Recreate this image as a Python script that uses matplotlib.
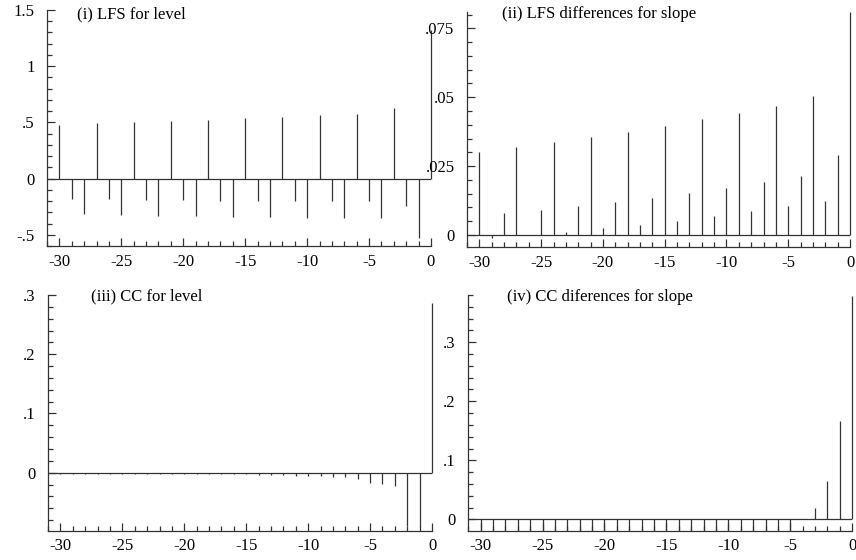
import matplotlib
matplotlib.use('Agg')
import matplotlib.pyplot as plt
from matplotlib.ticker import MultipleLocator, FixedLocator, FixedFormatter

plt.rcParams['font.family'] = ['Liberation Serif', 'DejaVu Serif']
plt.rcParams['font.size'] = 12
plt.rcParams['axes.unicode_minus'] = False  # plain hyphen like "-30"

lags = list(range(-30, 1))

# (i) LFS for level
lfs_level = [0.479, -0.185, -0.315, 0.491, -0.185, -0.320, 0.500, -0.190, -0.330,
             0.509, -0.190, -0.335, 0.524, -0.197, -0.338, 0.535, -0.200, -0.344,
             0.547, -0.200, -0.347, 0.562, -0.203, -0.353, 0.579, -0.203, -0.353,
             0.626, -0.247, -0.529, 1.32]

# (ii) LFS differences for slope
lfs_slope = [0.0300, -0.0010, 0.0079, 0.0319, -0.0002, 0.0091, 0.0336, 0.0011, 0.0105,
             0.0355, 0.0024, 0.0120, 0.0373, 0.0037, 0.0135, 0.0397, 0.0052, 0.0153,
             0.0421, 0.0069, 0.0171, 0.0443, 0.0087, 0.0191, 0.0467, 0.0105, 0.0215,
             0.0504, 0.0122, 0.0290, 0.0808]

# (iii) CC for level
cc_level = [-0.002, -0.002, -0.002, -0.002, -0.002, -0.002, -0.002, -0.002, -0.002,
            -0.002, -0.003, -0.003, -0.003, -0.003, -0.003, -0.003, -0.004, -0.004,
            -0.004, -0.005, -0.006, -0.006, -0.007, -0.008, -0.011, -0.017, -0.019,
            -0.022, -0.090, -0.092, 0.287]

# (iv) CC diferences for slope
cc_slope = [-0.019] * 26 + [0.0, 0.020, 0.065, 0.166, 0.378]

titles = ['(i) LFS for level', '(ii) LFS differences for slope',
          '(iii) CC for level', '(iv) CC diferences for slope']
series = [lfs_level, lfs_slope, cc_level, cc_slope]
ylims = [(-0.6, 1.5), (-0.0044, 0.081), (-0.098, 0.3), (-0.0192, 0.38)]
yticks = [[-0.5, 0, 0.5, 1, 1.5], [0, 0.025, 0.05, 0.075], [0, 0.1, 0.2, 0.3], [0, 0.1, 0.2, 0.3]]
ytick_labels = [['-.5', '0', '.5', '1', '1.5'], ['0', '.025', '.05', '.075'],
                ['0', '.1', '.2', '.3'], ['0', '.1', '.2', '.3']]
yminor = [0.1, 0.005, 0.02, 0.02]
xticks = [-30, -25, -20, -15, -10, -5, 0]
xtick_labels = ['-30', '-25', '-20', '-15', '-10', '-5', '0']

fig = plt.figure(figsize=(8.56, 5.6), dpi=100)
# panel boxes in figure fractions
boxes = [[0.0549, 0.5607, 0.4486, 0.4214],
         [0.5456, 0.5589, 0.4474, 0.4200],
         [0.0561, 0.0523, 0.4486, 0.4209],
         [0.5470, 0.0523, 0.4486, 0.4209]]
title_pos = [(0.078, 0.983), (0.090, 0.990), (0.112, 0.995), (0.100, 0.990)]

lc = '#333333'
for i in range(4):
    ax = fig.add_axes(boxes[i])
    ax.vlines(lags, 0, series[i], colors=lc, linewidth=0.9, clip_on=False)
    ax.axhline(0, color=lc, linewidth=0.9)
    ax.set_xlim(-31, 0)
    ax.set_ylim(*ylims[i])

    for s in ['top', 'right']:
        ax.spines[s].set_visible(False)
    for s in ['left', 'bottom']:
        ax.spines[s].set_color(lc)
        ax.spines[s].set_linewidth(0.9)

    ax.xaxis.set_major_locator(FixedLocator(xticks))
    ax.xaxis.set_major_formatter(FixedFormatter(xtick_labels))
    ax.xaxis.set_minor_locator(MultipleLocator(1))
    ax.yaxis.set_major_locator(FixedLocator(yticks[i]))
    ax.yaxis.set_major_formatter(FixedFormatter(ytick_labels[i]))
    ax.yaxis.set_minor_locator(MultipleLocator(yminor[i]))

    ax.tick_params(which='both', direction='in', color=lc, width=0.9)
    ax.tick_params(which='major', length=6)
    ax.tick_params(which='minor', length=3.5)
    ax.tick_params(axis='y', which='major', pad=9)
    ax.tick_params(axis='x', which='major', pad=5.5)

    ax.text(title_pos[i][0], title_pos[i][1], titles[i], transform=ax.transAxes,
            ha='left', va='center')

fig.savefig('out.png', dpi=100)
